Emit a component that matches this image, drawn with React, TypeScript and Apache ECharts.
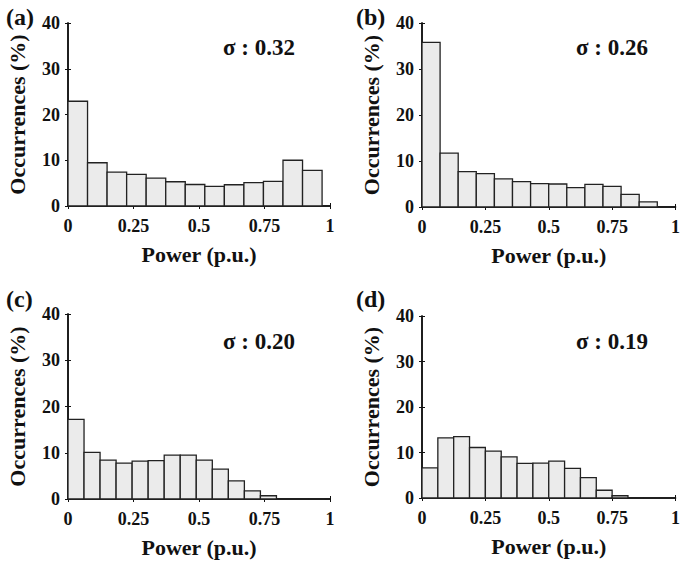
import React, { useEffect, useRef } from "react";
import * as echarts from "echarts";

const panelLabels = ["(a)", "(b)", "(c)", "(d)"];
const sigmaLabels = ["σ : 0.32", "σ : 0.26", "σ : 0.20", "σ : 0.19"];
const xTicks = [0, 0.25, 0.5, 0.75, 1];
const yTicks = [0, 10, 20, 30, 40];

// histogram bin widths (p.u.)
const binWidths = [0.0746, 0.0714, 0.0612, 0.0625];

// occurrences (%) per bin
const occA = [22.9, 9.45, 7.4, 6.9, 6.1, 5.3, 4.7, 4.3, 4.65, 5.1, 5.4, 10.0, 7.8];
const occB = [35.8, 11.7, 7.7, 7.25, 6.1, 5.5, 5.1, 5.0, 4.2, 4.9, 4.5, 2.75, 1.1];
const occC = [17.2, 10.1, 8.4, 7.75, 8.2, 8.3, 9.5, 9.5, 8.4, 6.45, 3.9, 1.75, 0.7, 0, 0, 0];
const occD = [6.6, 13.2, 13.5, 11.1, 10.3, 9.05, 7.6, 7.65, 8.1, 6.5, 4.5, 1.7, 0.5, 0, 0, 0];
const allOcc = [occA, occB, occC, occD];

const FONT = '"Liberation Serif", "Times New Roman", serif';

const grids = [
  { left: 68, top: 23, width: 262, height: 183 },
  { left: 422, top: 23, width: 260, height: 184 },
  { left: 68, top: 314, width: 262, height: 185 },
  { left: 422, top: 316, width: 260, height: 182 },
];

export default function App() {
  const ref = useRef<HTMLDivElement>(null);
  useEffect(() => {
    if (!ref.current) return;
    const chart = echarts.init(ref.current, null, { renderer: "svg" });
    const xAxis: any[] = [];
    const yAxis: any[] = [];
    const series: any[] = [];
    const graphic: any[] = [];
    const lineStyle = { color: "#111", width: 1.5 };
    grids.forEach((g, i) => {
      xAxis.push({
        type: "value",
        gridIndex: i,
        min: xTicks[0],
        max: xTicks[xTicks.length - 1],
        interval: 0.25,
        position: "bottom",
        name: "Power (p.u.)",
        nameLocation: "middle",
        nameGap: 37,
        nameTextStyle: { fontFamily: FONT, fontWeight: "bold", fontSize: 22, color: "#111" },
        axisLine: { show: true, lineStyle },
        axisTick: { show: true, inside: true, length: 3, lineStyle: { color: "#111" } },
        splitLine: { show: false },
        axisLabel: {
          fontFamily: FONT,
          fontWeight: "bold",
          fontSize: 18,
          color: "#111",
          margin: 11,
          formatter: (v: number) => String(v),
        },
      });
      xAxis.push({
        type: "value",
        gridIndex: i,
        min: xTicks[0],
        max: xTicks[xTicks.length - 1],
        interval: 0.25,
        position: "top",
        axisLine: { show: true, lineStyle },
        axisTick: { show: true, inside: true, length: 3, lineStyle: { color: "#111" } },
        splitLine: { show: false },
        axisLabel: { show: false },
      });
      yAxis.push({
        type: "value",
        gridIndex: i,
        min: yTicks[0],
        max: yTicks[yTicks.length - 1],
        interval: 10,
        position: "left",
        name: "Occurrences (%)",
        nameLocation: "middle",
        nameGap: 40,
        nameTextStyle: { fontFamily: FONT, fontWeight: "bold", fontSize: 22, color: "#111" },
        axisLine: { show: true, lineStyle },
        axisTick: { show: true, inside: true, length: 3, lineStyle: { color: "#111" } },
        splitLine: { show: false },
        axisLabel: { fontFamily: FONT, fontWeight: "bold", fontSize: 18, color: "#111", margin: 8 },
      });
      yAxis.push({
        type: "value",
        gridIndex: i,
        min: yTicks[0],
        max: yTicks[yTicks.length - 1],
        interval: 10,
        position: "right",
        axisLine: { show: true, lineStyle },
        axisTick: { show: true, inside: true, length: 3, lineStyle: { color: "#111" } },
        splitLine: { show: false },
        axisLabel: { show: false },
      });
      const w = binWidths[i];
      const data = allOcc[i].map((v, k) => [k * w, (k + 1) * w, v]);
      series.push({
        type: "custom",
        xAxisIndex: i * 2,
        yAxisIndex: i * 2,
        data,
        encode: { x: [0, 1], y: 2 },
        renderItem: (params: any, api: any) => {
          const p0 = api.coord([api.value(0), api.value(2)]);
          const p1 = api.coord([api.value(1), 0]);
          return {
            type: "rect",
            shape: { x: p0[0], y: p0[1], width: p1[0] - p0[0], height: p1[1] - p0[1] },
            style: { fill: "#ebebeb", stroke: "#222", lineWidth: 1.3 },
          };
        },
      });
      graphic.push({
        type: "text",
        left: i % 2 === 0 ? 6 : 356,
        top: i < 2 ? 5 : 287,
        style: {
          text: panelLabels[i],
          fontFamily: FONT,
          fontWeight: "bold",
          fontSize: 24,
          fill: "#111",
        },
      });
      graphic.push({
        type: "text",
        left: i % 2 === 0 ? 223 : 576,
        top: i < 2 ? 36 : 330,
        style: {
          text: sigmaLabels[i],
          fontFamily: FONT,
          fontWeight: "bold",
          fontSize: 23,
          fill: "#111",
        },
      });
    });
    chart.setOption({
      animation: false,
      backgroundColor: "#fff",
      grid: grids.map((g) => ({ ...g, containLabel: false })),
      xAxis,
      yAxis,
      series,
      graphic,
    });
    return () => chart.dispose();
  }, []);
  return (
    <div
      ref={ref}
      style={{ position: "fixed", left: 0, top: 0, width: 683, height: 561 }}
    />
  );
}
